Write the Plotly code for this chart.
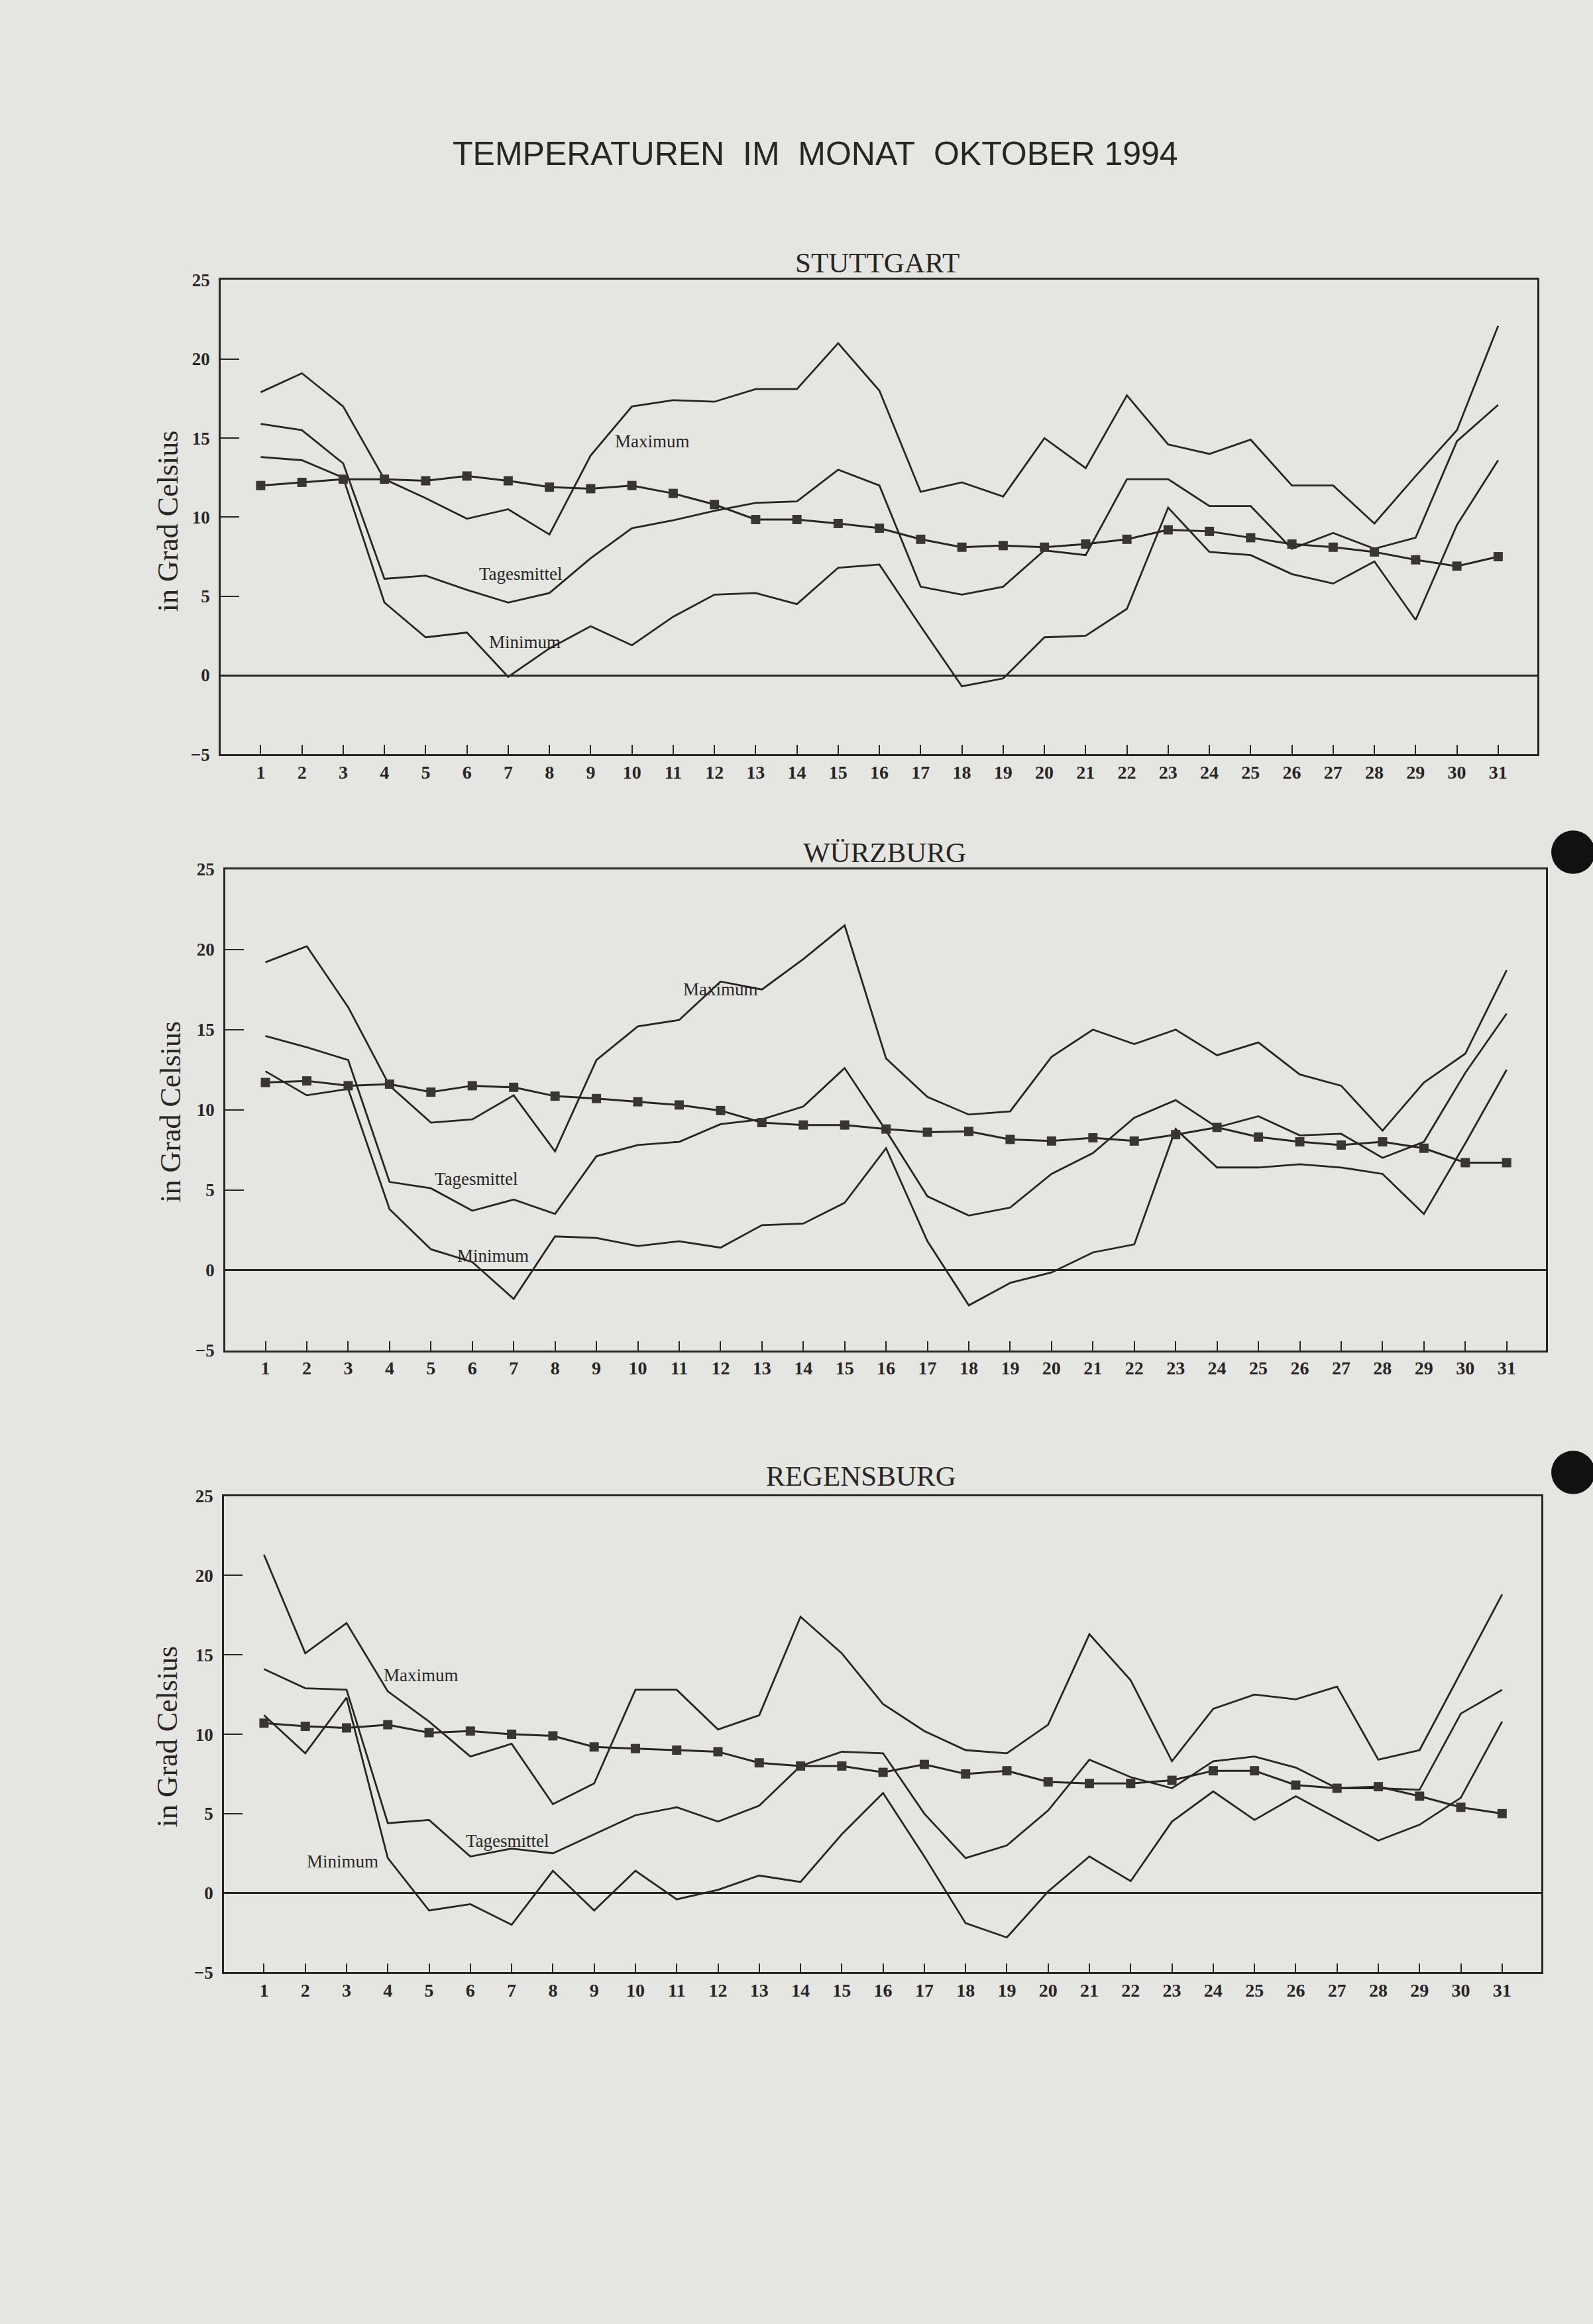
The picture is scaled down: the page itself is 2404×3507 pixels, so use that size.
import plotly.graph_objects as go

days = list(range(1, 32))
day_labels = [str(d) for d in days]
y_ticks = [-5, 0, 5, 10, 15, 20, 25]

# ---------------- STUTTGART ----------------
stg_max = [17.9, 19.1, 17.0, 12.4, 11.2, 9.9, 10.5, 8.9, 13.9, 17.0, 17.4, 17.3, 18.1, 18.1, 21.0, 18.0,
           11.6, 12.2, 11.3, 15.0, 13.1, 17.7, 14.6, 14.0, 14.9, 12.0, 12.0, 9.6, 12.6, 15.5, 22.1]
stg_tm = [15.9, 15.5, 13.4, 6.1, 6.3, 5.4, 4.6, 5.2, 7.4, 9.3, 9.8, 10.4, 10.9, 11.0, 13.0, 12.0,
          5.6, 5.1, 5.6, 7.9, 7.6, 12.4, 12.4, 10.7, 10.7, 8.0, 9.0, 8.0, 8.7, 14.8, 17.1]
stg_min = [13.8, 13.6, 12.5, 4.6, 2.4, 2.7, -0.1, 1.7, 3.1, 1.9, 3.7, 5.1, 5.2, 4.5, 6.8, 7.0,
           3.1, -0.7, -0.2, 2.4, 2.5, 4.2, 10.6, 7.8, 7.6, 6.4, 5.8, 7.2, 3.5, 9.5, 13.6]
stg_mean = [12.0, 12.2, 12.4, 12.4, 12.3, 12.6, 12.3, 11.9, 11.8, 12.0, 11.5, 10.8, 9.85, 9.85, 9.6, 9.3,
            8.6, 8.1, 8.2, 8.1, 8.3, 8.6, 9.2, 9.1, 8.7, 8.3, 8.1, 7.8, 7.3, 6.9, 7.5]

# ---------------- WÜRZBURG ----------------
wue_max = [19.2, 20.2, 16.4, 11.5, 9.2, 9.4, 10.9, 7.4, 13.1, 15.2, 15.6, 18.0, 17.5, 19.4, 21.5, 13.2,
           10.8, 9.7, 9.9, 13.3, 15.0, 14.1, 15.0, 13.4, 14.2, 12.2, 11.5, 8.7, 11.7, 13.5, 18.7]
wue_tm = [14.6, 13.9, 13.1, 5.5, 5.1, 3.7, 4.4, 3.5, 7.1, 7.8, 8.0, 9.1, 9.4, 10.2, 12.6, 8.7,
          4.6, 3.4, 3.9, 6.0, 7.3, 9.5, 10.6, 8.9, 9.6, 8.4, 8.5, 7.0, 8.0, 12.3, 16.0]
wue_min = [12.4, 10.9, 11.3, 3.8, 1.3, 0.5, -1.8, 2.1, 2.0, 1.5, 1.8, 1.4, 2.8, 2.9, 4.2, 7.6,
           1.8, -2.2, -0.8, -0.15, 1.1, 1.6, 8.8, 6.4, 6.4, 6.6, 6.4, 6.0, 3.5, 7.9, 12.5]
wue_mean = [11.7, 11.8, 11.5, 11.6, 11.1, 11.5, 11.4, 10.85, 10.7, 10.5, 10.3, 9.95, 9.2, 9.05, 9.05, 8.8,
            8.6, 8.65, 8.15, 8.05, 8.25, 8.05, 8.45, 8.9, 8.3, 8.0, 7.8, 8.0, 7.6, 6.7, 6.7]

# ---------------- REGENSBURG ----------------
rgb_max = [21.3, 15.1, 17.0, 12.7, 10.8, 8.6, 9.4, 5.6, 6.9, 12.8, 12.8, 10.3, 11.2, 17.4, 15.1, 11.9,
           10.2, 9.0, 8.8, 10.6, 16.3, 13.4, 8.3, 11.6, 12.5, 12.2, 13.0, 8.4, 9.0, 13.9, 18.8]
rgb_tm = [14.1, 12.9, 12.8, 4.4, 4.6, 2.3, 2.8, 2.5, 3.7, 4.9, 5.4, 4.5, 5.5, 8.0, 8.9, 8.8,
          5.0, 2.2, 3.0, 5.2, 8.4, 7.3, 6.6, 8.3, 8.6, 7.9, 6.6, 6.6, 6.5, 11.3, 12.8]
rgb_min = [11.2, 8.8, 12.3, 2.2, -1.1, -0.7, -2.0, 1.4, -1.1, 1.4, -0.4, 0.2, 1.1, 0.7, 3.7, 6.3,
           2.3, -1.9, -2.8, 0.1, 2.3, 0.75, 4.5, 6.4, 4.6, 6.1, 4.7, 3.3, 4.3, 6.0, 10.8]
rgb_mean = [10.7, 10.5, 10.4, 10.6, 10.1, 10.2, 10.0, 9.9, 9.2, 9.1, 9.0, 8.9, 8.2, 8.0, 8.0, 7.6,
            8.1, 7.5, 7.7, 7.0, 6.9, 6.9, 7.1, 7.7, 7.7, 6.8, 6.6, 6.7, 6.1, 5.4, 5.0]

stations = ["STUTTGART", "WÜRZBURG", "REGENSBURG"]
series = [
    (stg_max, stg_tm, stg_min, stg_mean),
    (wue_max, wue_tm, wue_min, wue_mean),
    (rgb_max, rgb_tm, rgb_min, rgb_mean),
]
# label positions (day, value) for Maximum, Tagesmittel, Minimum
label_pos = [
    [(10.5, 14.8), (7.3, 6.4), (7.4, 2.1)],
    [(12.0, 17.5), (6.1, 5.7), (6.5, 0.9)],
    [(4.8, 13.7), (6.9, 3.3), (2.9, 2.0)],
]
label_names = ["Maximum", "Tagesmittel", "Minimum"]

W, H = 2404, 3507
# plot boxes in pixels: (left, right, top, bottom)
boxes = [(333, 2320, 411, 1133), (340, 2333, 1308, 2040), (338, 2326, 2262, 2987)]
title_pos = [(1324, 385), (1335, 1282), (1299, 2232)]
ylab_pos = [(253, 778), (258, 1677), (253, 2628)]

INK = "#2a2525"
SERIF = "Liberation Serif, Times New Roman, serif"
BG = "#e5e6e2"

fig = go.Figure()
annotations = []
layout_axes = {}

for i, (name, (mx, tm, mn, me)) in enumerate(zip(stations, series)):
    xa = "x" if i == 0 else f"x{i+1}"
    ya = "y" if i == 0 else f"y{i+1}"
    for vals in (mx, tm, mn):
        fig.add_trace(go.Scatter(x=days, y=vals, mode="lines", xaxis=xa, yaxis=ya,
                                 line=dict(color=INK, width=2.8), showlegend=False,
                                 hoverinfo="skip"))
    fig.add_trace(go.Scatter(x=days, y=me, mode="lines+markers", xaxis=xa, yaxis=ya,
                             line=dict(color=INK, width=3),
                             marker=dict(symbol="square", size=14, color="#3b3434"),
                             showlegend=False))
    l, r, t, b = boxes[i]
    xkey = "xaxis" if i == 0 else f"xaxis{i+1}"
    ykey = "yaxis" if i == 0 else f"yaxis{i+1}"
    layout_axes[xkey] = dict(
        domain=[l / W, r / W], anchor=ya, range=[0.03, 31.95],
        tickmode="array", tickvals=days, ticktext=day_labels,
        ticks="inside", ticklen=14, tickwidth=2.2, tickcolor=INK,
        showline=True, linecolor=INK, linewidth=2.8, mirror=True,
        showgrid=False, zeroline=False,
        tickfont=dict(family=SERIF, size=28, color=INK, weight="bold"),
    )
    layout_axes[ykey] = dict(
        domain=[1 - b / H, 1 - t / H], anchor=xa, range=[-5, 25],
        tickmode="array", tickvals=y_ticks, ticktext=["\u22125" if v < 0 else str(v) for v in y_ticks],
        ticks="inside", ticklen=28, tickwidth=2.2, tickcolor=INK,
        showline=True, linecolor=INK, linewidth=2.8, mirror=True,
        showgrid=False, zeroline=True, zerolinecolor=INK, zerolinewidth=2.6,
        ticklabelstandoff=8,
        tickfont=dict(family=SERIF, size=27, color=INK, weight="bold"),
    )
    tx, ty = title_pos[i]
    annotations.append(dict(text=name, xref="paper", yref="paper", x=tx / W, y=1 - ty / H,
                            xanchor="center", yanchor="middle", showarrow=False,
                            font=dict(family=SERIF, size=43, color=INK)))
    lx, ly = ylab_pos[i]
    annotations.append(dict(text="in Grad Celsius", xref="paper", yref="paper", x=lx / W, y=1 - ly / H,
                            xanchor="center", yanchor="middle", showarrow=False, textangle=-90,
                            font=dict(family=SERIF, size=44, color=INK)))
    for (dx, dy), lab in zip(label_pos[i], label_names):
        annotations.append(dict(text=lab, xref=xa, yref=ya, x=dx, y=dy,
                                xanchor="center", yanchor="middle", showarrow=False,
                                font=dict(family=SERIF, size=27, color=INK)))

annotations.append(dict(text="TEMPERATUREN\u00a0 IM\u00a0 MONAT\u00a0 OKTOBER 1994",
                        xref="paper", yref="paper", x=1230 / W, y=1 - 219 / H,
                        xanchor="center", yanchor="middle", showarrow=False,
                        font=dict(family="Liberation Sans, Arial, sans-serif", size=50, color=INK)))

# punch holes of the scanned sheet
shapes = []
for cy in (1282, 2226):
    shapes.append(dict(type="circle", xref="paper", yref="paper",
                       x0=(2374 - 33) / W, x1=(2374 + 33) / W,
                       y0=1 - (cy + 33) / H, y1=1 - (cy - 33) / H,
                       fillcolor="#111111", line=dict(width=0)))

fig.update_layout(
    width=W, height=H,
    margin=dict(l=0, r=0, t=0, b=0),
    paper_bgcolor=BG, plot_bgcolor=BG,
    annotations=annotations, shapes=shapes,
    **layout_axes,
)

fig.write_html("out.html", config={"displayModeBar": False},
               post_script="document.body.style.margin='0';document.body.style.background='%s';" % BG)
